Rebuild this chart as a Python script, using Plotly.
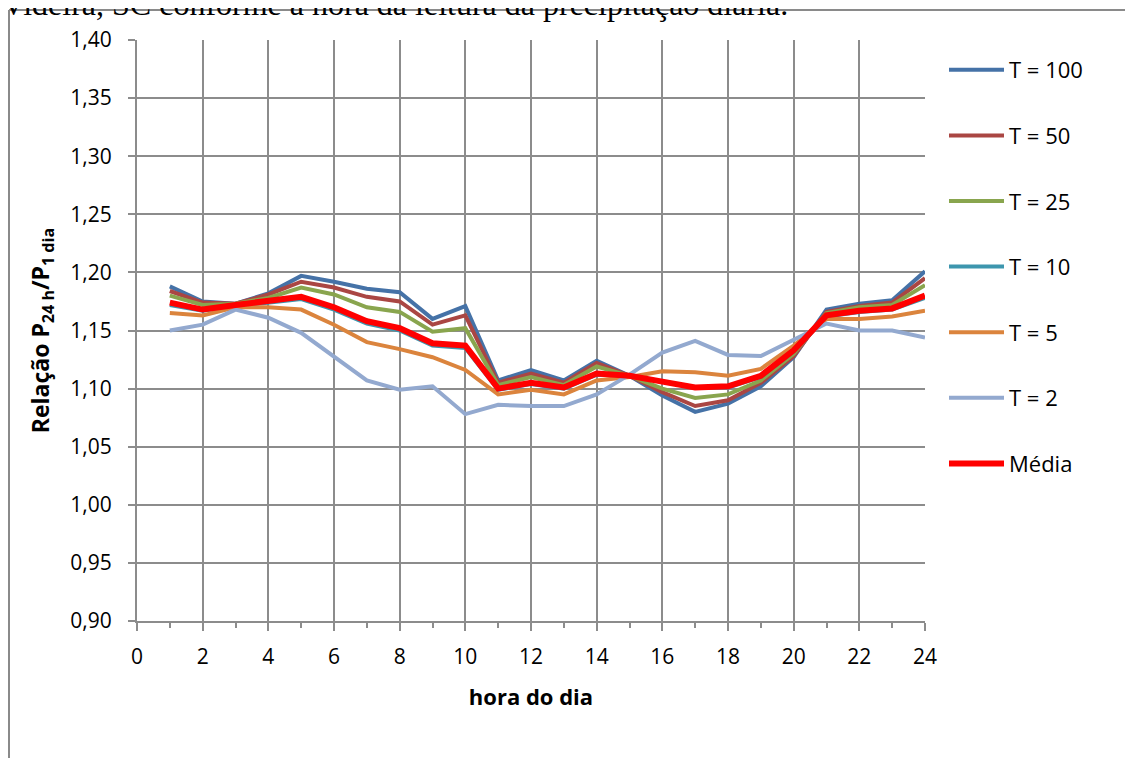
import plotly.graph_objects as go

hours = list(range(1, 25))
t100 = [1.188, 1.175, 1.173, 1.182, 1.197, 1.192, 1.186, 1.183, 1.160, 1.171, 1.107, 1.116,
        1.107, 1.124, 1.111, 1.094, 1.080, 1.087, 1.102, 1.127, 1.168, 1.173, 1.176, 1.201]
t50 = [1.184, 1.174, 1.173, 1.181, 1.192, 1.187, 1.179, 1.175, 1.155, 1.163, 1.105, 1.113,
       1.105, 1.122, 1.111, 1.097, 1.085, 1.090, 1.105, 1.128, 1.166, 1.171, 1.174, 1.195]
t25 = [1.180, 1.172, 1.173, 1.178, 1.187, 1.181, 1.170, 1.166, 1.149, 1.152, 1.103, 1.110,
       1.103, 1.119, 1.111, 1.100, 1.092, 1.095, 1.107, 1.130, 1.165, 1.170, 1.172, 1.189]
t10 = [1.172, 1.167, 1.171, 1.174, 1.177, 1.168, 1.156, 1.150, 1.137, 1.135, 1.099, 1.104,
       1.100, 1.112, 1.111, 1.106, 1.101, 1.101, 1.110, 1.132, 1.162, 1.166, 1.168, 1.178]
t5 = [1.165, 1.163, 1.170, 1.170, 1.168, 1.155, 1.140, 1.134, 1.127, 1.116, 1.095, 1.099,
      1.095, 1.107, 1.110, 1.115, 1.114, 1.111, 1.117, 1.137, 1.160, 1.160, 1.162, 1.167]
t2 = [1.150, 1.155, 1.168, 1.161, 1.148, 1.128, 1.107, 1.099, 1.102, 1.078, 1.086, 1.085,
      1.085, 1.095, 1.112, 1.131, 1.141, 1.129, 1.128, 1.142, 1.156, 1.150, 1.150, 1.144]
media = [1.174, 1.168, 1.172, 1.175, 1.179, 1.170, 1.158, 1.152, 1.139, 1.137, 1.100, 1.105,
         1.101, 1.113, 1.111, 1.106, 1.101, 1.102, 1.111, 1.133, 1.163, 1.167, 1.169, 1.180]

series_names = ["T = 100", "T = 50", "T = 25", "T = 10", "T = 5", "T = 2", "Média"]
series_values = [t100, t50, t25, t10, t5, t2, media]
colors = ["#4572A7", "#AA4643", "#89A54E", "#3D96AE", "#DB843D", "#93A9CF", "#FF0000"]
widths = [4, 4, 4, 4, 4, 4, 6]

caption = "Videira, SC conforme a hora da leitura da precipitação diária."

FONT = "Open Sans"
GRID = "#8C8C8C"

fig = go.Figure()
for i, (name, vals) in enumerate(zip(series_names, series_values)):
    fig.add_trace(go.Scatter(
        x=hours, y=vals, mode="lines", name=name,
        line=dict(color=colors[i], width=widths[i]),
        legendgroup=name,
    ))

# page body has an 8px margin; layout coordinates are screen coordinates minus 8
OFF = 8
W, H = 1125, 750
L, R, T, B = 129, 208, 32, 137
pw, ph = W - L - R, H - T - B


def sx(x):
    return (x - OFF - L) / pw


def sy(y):
    return (H - B - (y - OFF)) / ph


fig.update_layout(
    width=W, height=H,
    margin=dict(l=L, r=R, t=T, b=B, pad=0, autoexpand=False),
    paper_bgcolor="white", plot_bgcolor="white",
    separators=",.",
    font=dict(family=FONT, size=21, color="#000000"),
    showlegend=True,
    legend=dict(
        x=sx(944), y=sy(49), xanchor="left", yanchor="top",
        font=dict(family=FONT, size=22, color="#000000"),
        tracegroupgap=34, itemwidth=55, bgcolor="rgba(0,0,0,0)",
        traceorder="grouped",
    ),
    xaxis=dict(
        range=[0, 24], tickmode="linear", tick0=0, dtick=2,
        showgrid=True, gridcolor=GRID, gridwidth=2,
        showline=True, linecolor=GRID, linewidth=2,
        ticks="outside", ticklen=8, tickcolor=GRID, tickwidth=2,
        minor=dict(dtick=1, ticks="outside", ticklen=5, tickcolor=GRID, tickwidth=2, showgrid=False),
        zeroline=False,
        tickfont=dict(family=FONT, size=21),
        ticklabelstandoff=8,
        title=dict(text="<b>hora do dia</b>", font=dict(family=FONT, size=22), standoff=20),
    ),
    yaxis=dict(
        range=[0.90, 1.40], tickmode="linear", tick0=0.90, dtick=0.05, tickformat=".2f",
        showgrid=True, gridcolor=GRID, gridwidth=2,
        showline=True, linecolor=GRID, linewidth=2,
        ticks="outside", ticklen=7, tickcolor=GRID, tickwidth=2,
        zeroline=False,
        tickfont=dict(family=FONT, size=21),
        ticklabelstandoff=12,
        title=dict(text="<b>Relação P<sub>24 h</sub>/P<sub>1 dia</sub></b>",
                   font=dict(family=FONT, size=23), standoff=14),
    ),
    shapes=[
        dict(type="line", xref="paper", yref="paper", x0=sx(9), x1=sx(1145), y0=sy(10), y1=sy(10),
             line=dict(color="#8A8A8A", width=2)),
        dict(type="line", xref="paper", yref="paper", x0=sx(9), x1=sx(9), y0=sy(10), y1=sy(770),
             line=dict(color="#8A8A8A", width=2)),
    ],
    annotations=[
        dict(text=caption, xref="paper", yref="paper", x=sx(0), y=sy(24),
             xanchor="left", yanchor="bottom", showarrow=False,
             font=dict(family="Liberation Serif", size=32, color="#000000")),
    ],
)

fig.write_html("out.html")
